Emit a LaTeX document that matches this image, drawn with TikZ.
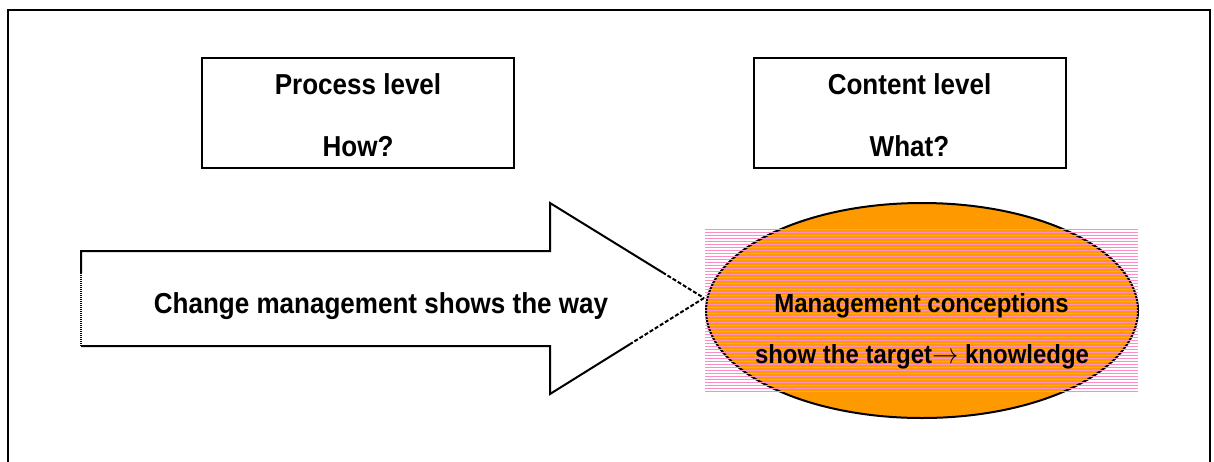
\documentclass[tikz,border=0pt]{standalone}
\usepackage{fontspec}
\usetikzlibrary{calc}
\setmainfont{Liberation Sans}
\definecolor{fillorange}{RGB}{255,153,0}
\definecolor{hatchpink}{RGB}{255,140,200}
\tikzset{
  frame/.style={draw=black, line width=2pt},
  levelbox/.style={draw=black, line width=2pt, minimum width=312pt, minimum height=110pt, inner sep=0pt},
  bigtxt/.style={font=\bfseries\fontsize{28}{30}\selectfont, anchor=base, inner sep=0pt},
  elltxt/.style={font=\bfseries\fontsize{25.5}{28}\selectfont, anchor=base, inner sep=0pt},
  outline/.style={draw=black, line width=2pt},
  brokenline/.style={draw=black, line width=2pt, dash pattern=on 4pt off 2pt},
  dottedline/.style={draw=black, line width=2pt, dash pattern=on 1pt off 1pt},
  hatch/.style={draw=hatchpink, line width=1pt}
}
\begin{document}
\begin{tikzpicture}[x=1pt,y=-1pt]
\useasboundingbox (0,0) rectangle (1214,461);
\clip (0,0) rectangle (1214,461);
% outer frame
\draw[frame] (8,9.5) rectangle (1210,480);
% level boxes
\node[levelbox] (proc) at (358,113) {};
\node[levelbox] (cont) at (909.5,113) {};
\node[bigtxt] (proc1) at (358,94) {\scalebox{0.93}[1.03]{Process level}};
\node[bigtxt] (proc2) at (358,156) {\scalebox{0.93}[1.03]{How?}};
\node[bigtxt] (cont1) at (909.5,94) {\scalebox{0.93}[1.03]{Content level}};
\node[bigtxt] (cont2) at (909.5,156) {\scalebox{0.93}[1.03]{What?}};
% big arrow
\coordinate (a1) at (81,251);
\coordinate (a2) at (550,251);
\coordinate (a3) at (550,203);
\coordinate (tip) at (704,298);
\coordinate (a5) at (550,394);
\coordinate (a6) at (550,346);
\coordinate (a7) at (81,346);
\fill[white] (a1) -- (a2) -- (a3) -- (tip) -- (a5) -- (a6) -- (a7) -- cycle;
\draw[outline, line join=miter] ($(a1)+(0,22)$) -- (a1) -- (a2) -- (a3) -- ($(a3)!0.73!(tip)$);
\draw[brokenline] ($(a3)!0.73!(tip)$) -- (tip);
\draw[brokenline] (tip) -- ($(a5)!0.52!(tip)$);
\draw[outline, line join=miter] ($(a5)!0.52!(tip)$) -- (a5) -- (a6) -- (a7);
\draw[dottedline] (a7) -- ($(a1)+(0,22)$);
\node[bigtxt] (way) at (381,313) {\scalebox{0.93}[1.03]{Change management shows the way}};
% ellipse
\path[outline, fill=fillorange] (922,310.5) ellipse [x radius=216, y radius=107.5];
\coordinate (ell) at (922,310.5);
% pink hatching
\foreach \yy in {229.5,232.5,...,392.5} {
  \draw[hatch] (705,\yy) -- (1138,\yy);
}
\node[elltxt] (m1) at (921.5,312) {\scalebox{0.94}[1.03]{Management conceptions}};
\node[elltxt] (m2) at (922,363) {\scalebox{0.94}[1.03]{show the target\resizebox{28pt}{!}{$\mathord{\rightarrow}$} knowledge}};
\end{tikzpicture}
\end{document}
